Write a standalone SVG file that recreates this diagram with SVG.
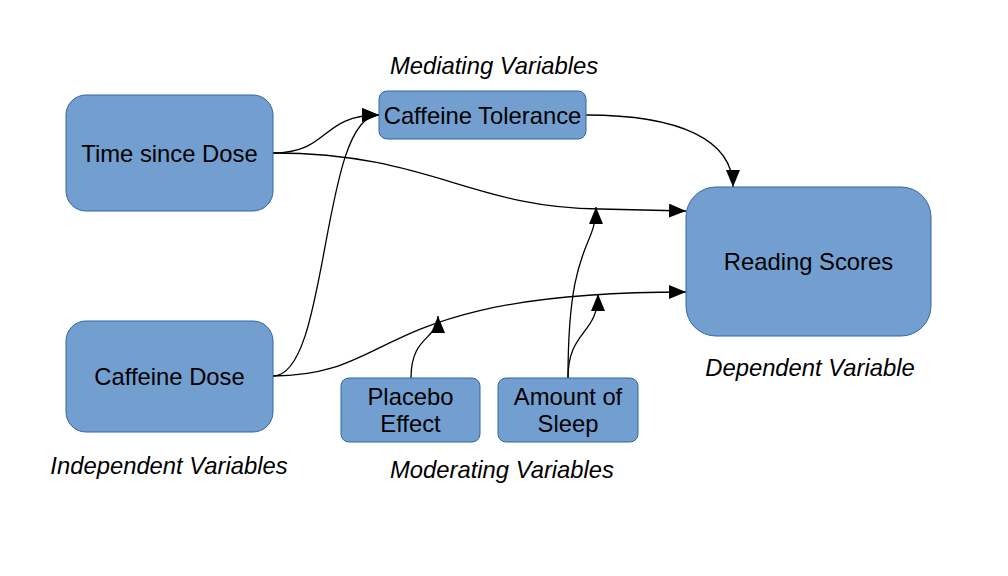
<svg xmlns="http://www.w3.org/2000/svg" width="1008" height="576" viewBox="0 0 1008 576">
<style>
.node{fill:#729fcf;stroke:#3465a4;stroke-width:1}
.lbl{font-family:"Liberation Sans",Arial,sans-serif;font-size:23.8px;fill:#000;text-anchor:middle}
.cap{font-family:"Liberation Sans",Arial,sans-serif;font-size:23.8px;font-style:italic;fill:#000;text-anchor:middle}
.edge{fill:none;stroke:#000;stroke-width:1.3;marker-end:url(#arr)}
</style>
<defs>
<marker id="arr" markerUnits="userSpaceOnUse" markerWidth="18" markerHeight="14" refX="17" refY="7" orient="auto">
<path d="M0,0 L17,7 L0,14 z" fill="#000"/>
</marker>
</defs>
<rect width="1008" height="576" fill="#fff"/>
<g id="connectors">
<path class="edge" d="M273,153 C330,153 320,115 379,115"/>
<path class="edge" d="M273,153 C430,153 470,208 600,209 L686,211"/>
<path class="edge" d="M273,376 C330,376 320,115 379,115"/>
<path class="edge" d="M273,376 C400,376 370,292 686,292"/>
<path class="edge" d="M411,378 C411,335 438,340 438,316"/>
<path class="edge" d="M568,378 C568,240 596,250 596,207"/>
<path class="edge" d="M568,378 C568,330 598,335 598,294"/>
<path class="edge" d="M586,115 C680,115 733,140 733,187"/>
</g>
<g id="time-since-dose">
<rect class="node" x="66" y="95" width="207" height="116" rx="20"/>
<text class="lbl" x="169.5" y="161.5">Time since Dose</text>
</g>
<g id="caffeine-dose">
<rect class="node" x="66" y="321" width="207" height="111" rx="20"/>
<text class="lbl" x="169.5" y="384.5">Caffeine Dose</text>
</g>
<g id="caffeine-tolerance">
<rect class="node" x="379" y="91" width="207" height="48" rx="8"/>
<text class="lbl" x="482.5" y="123.5">Caffeine Tolerance</text>
</g>
<g id="reading-scores">
<rect class="node" x="686" y="187" width="245" height="149" rx="30"/>
<text class="lbl" x="808.5" y="269.5">Reading Scores</text>
</g>
<g id="placebo-effect">
<rect class="node" x="341" y="378" width="139" height="64" rx="8"/>
<text class="lbl" x="410.5" y="405">Placebo</text>
<text class="lbl" x="410.5" y="432">Effect</text>
</g>
<g id="amount-of-sleep">
<rect class="node" x="498" y="378" width="140" height="64" rx="8"/>
<text class="lbl" x="568" y="405">Amount of</text>
<text class="lbl" x="568" y="432">Sleep</text>
</g>
<g id="captions">
<text class="cap" x="494" y="74">Mediating Variables</text>
<text class="cap" x="169" y="474">Independent Variables</text>
<text class="cap" x="502" y="478">Moderating Variables</text>
<text class="cap" x="810" y="376">Dependent Variable</text>
</g>
</svg>
